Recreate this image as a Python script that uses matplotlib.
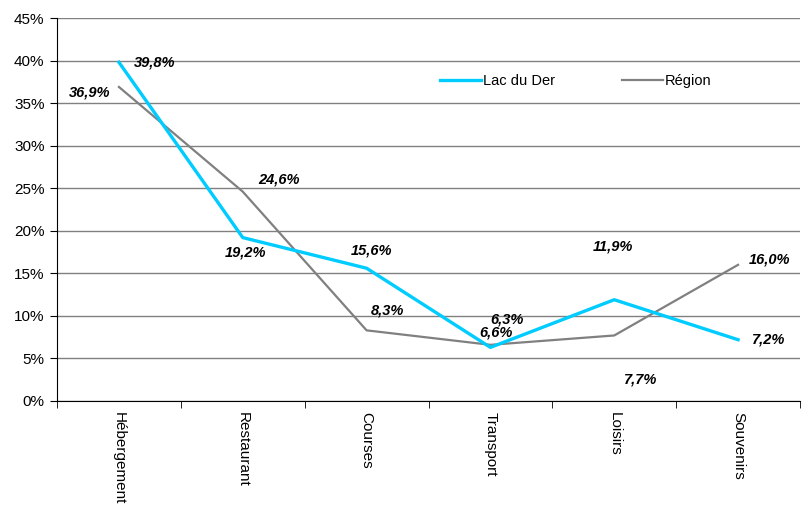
import matplotlib.pyplot as plt
import numpy as np

plt.rcParams['font.family'] = ['Liberation Sans', 'DejaVu Sans']

# data
categories = ['Hébergement', 'Restaurant', 'Courses', 'Transport', 'Loisirs', 'Souvenirs']
lac_du_der = [39.8, 19.2, 15.6, 6.3, 11.9, 7.2]
region = [36.9, 24.6, 8.3, 6.6, 7.7, 16.0]

# label offsets in pixels (dx, dy)
lac_offsets = [(36, 0), (3, -15), (5, 18), (17, 28), (-1, 53), (31, 0)]
reg_offsets = [(-29, -6), (36, 12), (21, 20), (6, 12), (26, -44), (31, 5)]

fig = plt.figure(figsize=(8.06, 5.07), dpi=100)
ax = fig.add_axes([57 / 806, 1 - 401 / 507, 743 / 806, 383 / 507])

x = np.arange(len(categories))
ax.plot(x, lac_du_der, color='#00CCFF', lw=2.4, label='Lac du Der', zorder=3)
ax.plot(x, region, color='#808080', lw=1.6, label='Région', zorder=2)

for xi, v, (dx, dy) in zip(x, lac_du_der, lac_offsets):
    ax.annotate(f'{v:.1f}%'.replace('.', ','), (xi, v), xytext=(dx, dy),
                textcoords='offset pixels', ha='center', va='center',
                fontsize=10.5, fontweight='bold', fontstyle='italic', zorder=5)
for xi, v, (dx, dy) in zip(x, region, reg_offsets):
    ax.annotate(f'{v:.1f}%'.replace('.', ','), (xi, v), xytext=(dx, dy),
                textcoords='offset pixels', ha='center', va='center',
                fontsize=10.5, fontweight='bold', fontstyle='italic', zorder=5)

ax.set_xlim(-0.5, len(categories) - 0.5)
ax.set_ylim(0, 45)
ax.set_yticks(np.arange(0, 46, 5))
ax.set_yticklabels([f'{t}%' for t in range(0, 46, 5)], fontsize=11)
ax.yaxis.grid(True, color='#808080', lw=1)
ax.set_axisbelow(True)

ax.set_xticks(x)
ax.set_xticklabels(categories, rotation=-90, fontsize=11, va='top', ha='center')
ax.set_xticks(np.arange(-0.5, len(categories), 1), minor=True)
ax.tick_params(axis='x', which='major', length=0, pad=8)
ax.tick_params(axis='x', which='minor', length=5, color='black')
ax.tick_params(axis='y', length=5, color='black', pad=4)

for s in ['top', 'right']:
    ax.spines[s].set_visible(False)
ax.spines['left'].set_color('black')
ax.spines['bottom'].set_color('black')

ax.legend(loc='center left', bbox_to_anchor=(370 / 743, 0.835), ncol=2, frameon=False,
          fontsize=10.5, handlelength=2.8, handletextpad=0.15, columnspacing=4.6)

fig.savefig('out.png', dpi=100)
